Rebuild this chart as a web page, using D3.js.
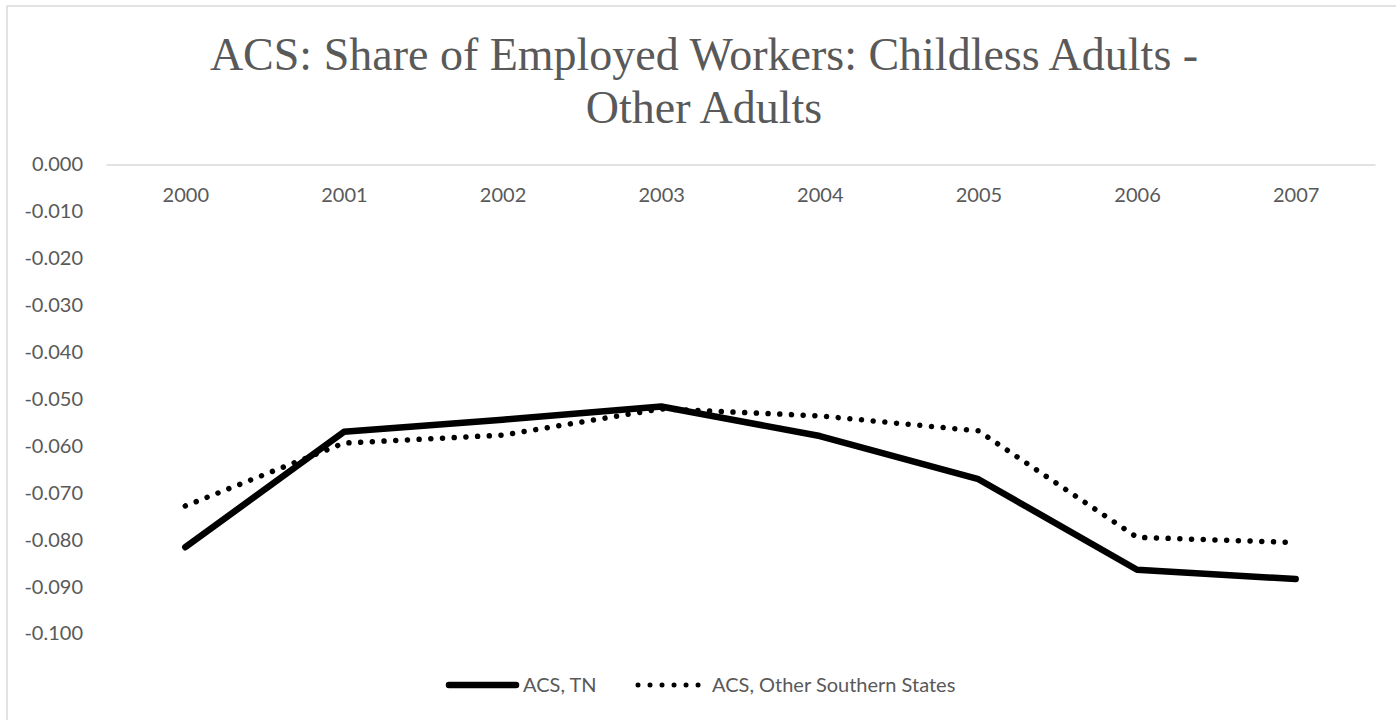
<!DOCTYPE html>
<html>
<head>
<meta charset="utf-8">
<script src="https://cdn.jsdelivr.net/npm/d3@7"></script>
<style>
  html, body { margin: 0; padding: 0; background: #fff; }
  svg { display: block; }
</style>
</head>
<body>
<svg id="chart" width="1396" height="720"></svg>
<script>
const titleLines = ["ACS: Share of Employed Workers: Childless Adults -", "Other Adults"];
const years = ["2000", "2001", "2002", "2003", "2004", "2005", "2006", "2007"];
const tnValues = [-0.0816, -0.0570, -0.0544, -0.0516, -0.0579, -0.0671, -0.0864, -0.0884];
const otherValues = [-0.0728, -0.0594, -0.0577, -0.0521, -0.0536, -0.0568, -0.0795, -0.0806];
const yTicks = [0, -0.01, -0.02, -0.03, -0.04, -0.05, -0.06, -0.07, -0.08, -0.09, -0.1];
const yTickLabels = ["0.000", "-0.010", "-0.020", "-0.030", "-0.040", "-0.050", "-0.060", "-0.070", "-0.080", "-0.090", "-0.100"];
const seriesNames = ["ACS, TN", "ACS, Other Southern States"];

const svg = d3.select("#chart");
const textColor = "#595959";
const labelFont = "Lato, 'Open Sans', sans-serif";

// chart border
svg.append("rect")
  .attr("x", 7).attr("y", 6).attr("width", 1400).attr("height", 720)
  .attr("fill", "none").attr("stroke", "#d9d9d9").attr("stroke-width", 1.5);

// title
const title = svg.append("text")
  .attr("text-anchor", "middle")
  .attr("font-family", "'Liberation Serif', 'Times New Roman', serif")
  .attr("font-size", 46)
  .attr("fill", textColor);
title.selectAll("tspan").data(titleLines).join("tspan")
  .attr("x", 704)
  .attr("y", (d, i) => 70 + i * 53)
  .text(d => d);

const x = d3.scalePoint().domain(years).range([106, 1375]).padding(0.5);
const y = d3.scaleLinear().domain([-0.1, 0]).range([633.5, 164.5]);

// y axis
const yAxis = svg.append("g")
  .attr("transform", "translate(106,0)")
  .call(d3.axisLeft(y).tickValues(yTicks).tickSize(0).tickPadding(23)
    .tickFormat((d, i) => yTickLabels[i]));
yAxis.select(".domain").remove();
yAxis.selectAll("text")
  .attr("font-family", labelFont).attr("font-size", 20).attr("fill", textColor);

// x axis (category axis at 0)
const xAxis = svg.append("g")
  .attr("transform", `translate(0,${y(0)})`)
  .call(d3.axisBottom(x).tickSize(0).tickSizeOuter(0).tickPadding(23.5));
xAxis.select(".domain").attr("stroke", "#d9d9d9").attr("stroke-width", 1.5);
xAxis.selectAll("text")
  .attr("font-family", labelFont).attr("font-size", 20).attr("fill", textColor);

// lines
const line = d3.line().x((d, i) => x(years[i])).y(d => y(d));

svg.append("path")
  .datum(otherValues)
  .attr("d", line)
  .attr("fill", "none").attr("stroke", "#000")
  .attr("stroke-width", 5.5)
  .attr("stroke-linecap", "round").attr("stroke-linejoin", "round")
  .attr("stroke-dasharray", "0.01 11.7");

svg.append("path")
  .datum(tnValues)
  .attr("d", line)
  .attr("fill", "none").attr("stroke", "#000")
  .attr("stroke-width", 6.5)
  .attr("stroke-linecap", "round").attr("stroke-linejoin", "round");

// legend
const legend = svg.append("g").attr("font-family", labelFont).attr("font-size", 20).attr("fill", textColor);
const ly = 685;
legend.append("line").attr("x1", 449).attr("x2", 516).attr("y1", ly).attr("y2", ly)
  .attr("stroke", "#000").attr("stroke-width", 6.5).attr("stroke-linecap", "round");
legend.append("text").attr("x", 523).attr("y", ly).attr("dy", "0.35em").text(seriesNames[0]);
legend.append("line").attr("x1", 638).attr("x2", 699).attr("y1", ly).attr("y2", ly)
  .attr("stroke", "#000").attr("stroke-width", 5).attr("stroke-linecap", "round")
  .attr("stroke-dasharray", "0.01 12");
legend.append("text").attr("x", 712).attr("y", ly).attr("dy", "0.35em").text(seriesNames[1]);
</script>
</body>
</html>
